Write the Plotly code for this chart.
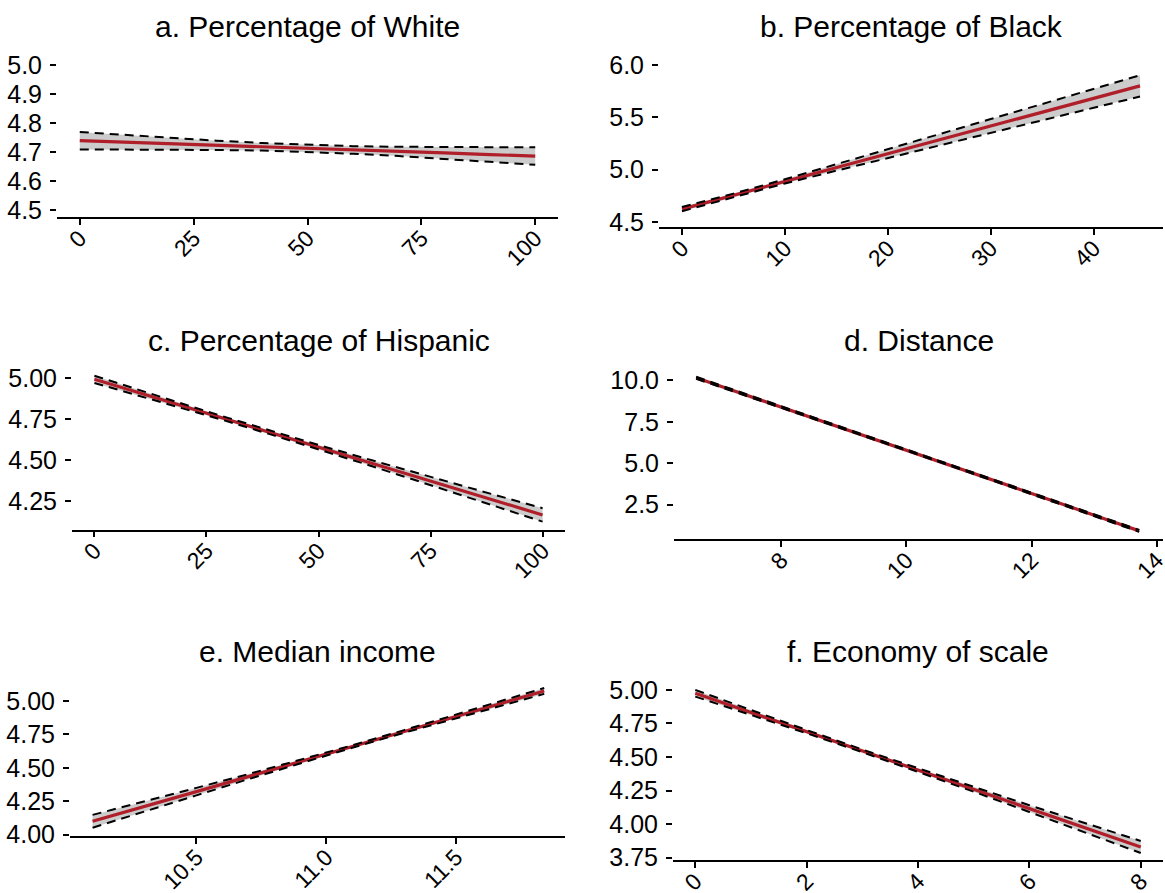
import plotly.graph_objects as go

W, H = 1165, 893

# ---------------- data ----------------
titles = ["a. Percentage of White", "b. Percentage of Black", "c. Percentage of Hispanic",
          "d. Distance", "e. Median income", "f. Economy of scale"]

# a. Percentage of White
a_x = [0, 10, 20, 30, 40, 50, 60, 70, 80, 90, 100]
a_fit = [4.739, 4.734, 4.728, 4.723, 4.718, 4.713, 4.707, 4.702, 4.697, 4.691, 4.686]
a_lo = [4.709, 4.709, 4.708, 4.707, 4.705, 4.700, 4.694, 4.686, 4.677, 4.666, 4.656]
a_hi = [4.769, 4.759, 4.748, 4.739, 4.731, 4.726, 4.720, 4.718, 4.717, 4.716, 4.716]

# b. Percentage of Black
b_x = [0, 5, 10, 15, 20, 25, 30, 35, 40, 44.5]
b_fit = [4.623, 4.755, 4.888, 5.020, 5.152, 5.284, 5.417, 5.549, 5.681, 5.800]
b_lo = [4.603, 4.739, 4.868, 4.990, 5.112, 5.232, 5.351, 5.471, 5.591, 5.698]
b_hi = [4.643, 4.771, 4.908, 5.050, 5.192, 5.336, 5.483, 5.627, 5.771, 5.902]

# c. Percentage of Hispanic
c_x = [0, 10, 20, 30, 40, 50, 60, 70, 80, 90, 100]
c_fit = [4.992, 4.909, 4.827, 4.744, 4.661, 4.579, 4.496, 4.413, 4.330, 4.248, 4.165]
c_lo = [4.970, 4.892, 4.814, 4.733, 4.650, 4.566, 4.479, 4.391, 4.302, 4.214, 4.124]
c_hi = [5.014, 4.926, 4.840, 4.755, 4.672, 4.592, 4.513, 4.435, 4.358, 4.282, 4.206]

# d. Distance
d_x = [6.64, 8, 9, 10, 11, 12, 13, 13.72]
d_fit = [10.16, 8.40, 7.09, 5.79, 4.48, 3.18, 1.87, 0.92]
d_lo = [10.10, 8.36, 7.06, 5.76, 4.45, 3.14, 1.82, 0.86]
d_hi = [10.22, 8.44, 7.12, 5.82, 4.51, 3.22, 1.92, 0.98]

# e. Median income
e_x = [10.10, 10.3, 10.5, 10.7, 10.9, 11.1, 11.3, 11.5, 11.7, 11.84]
e_fit = [4.100, 4.209, 4.322, 4.434, 4.547, 4.659, 4.772, 4.884, 4.997, 5.075]
e_lo = [4.052, 4.171, 4.294, 4.415, 4.535, 4.650, 4.762, 4.871, 4.979, 5.053]
e_hi = [4.148, 4.247, 4.350, 4.453, 4.559, 4.668, 4.782, 4.897, 5.015, 5.097]

# f. Economy of scale
f_x = [0, 1, 2, 3, 4, 5, 6, 7, 8]
f_fit = [4.975, 4.832, 4.689, 4.546, 4.403, 4.260, 4.116, 3.973, 3.830]
f_lo = [4.950, 4.814, 4.677, 4.536, 4.391, 4.242, 4.091, 3.938, 3.785]
f_hi = [5.000, 4.850, 4.701, 4.556, 4.415, 4.278, 4.141, 4.008, 3.875]

# tick values / labels
a_xt = [0, 25, 50, 75, 100]; a_yt = [4.5, 4.6, 4.7, 4.8, 4.9, 5.0]
b_xt = [0, 10, 20, 30, 40];  b_yt = [4.5, 5.0, 5.5, 6.0]
c_xt = [0, 25, 50, 75, 100]; c_yt = [4.25, 4.50, 4.75, 5.00]
d_xt = [8, 10, 12, 14];      d_yt = [2.5, 5.0, 7.5, 10.0]
e_xt = [10.5, 11.0, 11.5];   e_yt = [4.00, 4.25, 4.50, 4.75, 5.00]
f_xt = [0, 2, 4, 6, 8];      f_yt = [3.75, 4.00, 4.25, 4.50, 4.75, 5.00]

panels = [
    (a_x, a_fit, a_lo, a_hi, a_xt, a_yt, None, ".1f"),
    (b_x, b_fit, b_lo, b_hi, b_xt, b_yt, None, ".1f"),
    (c_x, c_fit, c_lo, c_hi, c_xt, c_yt, None, ".2f"),
    (d_x, d_fit, d_lo, d_hi, d_xt, d_yt, None, ".1f"),
    (e_x, e_fit, e_lo, e_hi, e_xt, e_yt, ".1f", ".2f"),
    (f_x, f_fit, f_lo, f_hi, f_xt, f_yt, None, ".2f"),
]

# ---------------- layout (pixel boxes of each panel) ----------------
boxes = [  # left, right, top, bottom
    (57, 558, 58, 217),
    (659, 1163, 57, 227),
    (72, 565, 368, 529.5),
    (674, 1163, 370, 539),
    (70, 565, 682, 836),
    (673, 1163, 680.5, 860),
]
xranges = [[-5, 105], [-2.23, 46.73], [-5, 105], [6.286, 14.1], [10.013, 11.92], [-0.4, 8.4]]
yranges = [[4.476, 5.024], [4.452, 6.076], [4.076, 5.061], [0.43, 10.63], [3.99, 5.142], [3.733, 5.07]]
title_y = [26, 26, 340, 340, 651, 651]

FONT = "Liberation Sans, Arial, Helvetica, sans-serif"
RED = "#B01E2A"

fig = go.Figure()
layout = dict(template="none", width=W, height=H, margin=dict(l=0, r=0, t=0, b=0, autoexpand=False),
              paper_bgcolor="white", plot_bgcolor="white", showlegend=False,
              font=dict(family=FONT, color="black"))
annotations = []

for i, (x, fit, lo, hi, xt, yt, xfmt, yfmt) in enumerate(panels):
    k = "" if i == 0 else str(i + 1)
    xa, ya = "x" + k, "y" + k
    # band
    fig.add_trace(go.Scatter(x=x, y=lo, mode="lines", line=dict(width=0, color="rgba(0,0,0,0)"),
                             xaxis=xa, yaxis=ya, hoverinfo="skip"))
    fig.add_trace(go.Scatter(x=x, y=hi, mode="lines", line=dict(width=0, color="rgba(0,0,0,0)"),
                             fill="tonexty", fillcolor="rgba(0,0,0,0.2)",
                             xaxis=xa, yaxis=ya, hoverinfo="skip"))
    # fitted line
    fig.add_trace(go.Scatter(x=x, y=fit, mode="lines", line=dict(width=3.2, color=RED),
                             xaxis=xa, yaxis=ya))
    # dashed CI limits
    for yy in (lo, hi):
        fig.add_trace(go.Scatter(x=x, y=yy, mode="lines",
                                 line=dict(width=2, color="black", dash="9px,6px"),
                                 xaxis=xa, yaxis=ya))
    l, r, t, b = boxes[i]
    layout["xaxis" + k] = dict(
        domain=[l / W, r / W], range=xranges[i], anchor=ya, automargin=False,
        showline=True, linecolor="black", linewidth=1.6, mirror=False,
        showgrid=False, zeroline=False,
        ticks="outside", ticklen=6, tickwidth=1.5, tickcolor="black",
        tickvals=xt, tickformat=xfmt, tickangle=-45, ticklabeloverflow="allow",
        ticklabelstandoff=-9,
        tickfont=dict(size=23, family=FONT, color="black"),
    )
    layout["yaxis" + k] = dict(
        domain=[1 - b / H, 1 - t / H], range=yranges[i], anchor=xa, automargin=False,
        showline=False, showgrid=False, zeroline=False,
        ticks="outside", ticklen=6, tickwidth=1.5, tickcolor="black",
        tickvals=yt, tickformat=yfmt, ticklabelstandoff=3,
        tickfont=dict(size=25, family=FONT, color="black"),
    )
    annotations.append(dict(text=titles[i], x=(l + r) / 2 / W, y=1 - title_y[i] / H,
                            xref="paper", yref="paper", xanchor="center", yanchor="middle",
                            showarrow=False, font=dict(size=30, family=FONT, color="black")))

layout["annotations"] = annotations
fig.update_layout(**layout)
fig.write_html("out.html")
